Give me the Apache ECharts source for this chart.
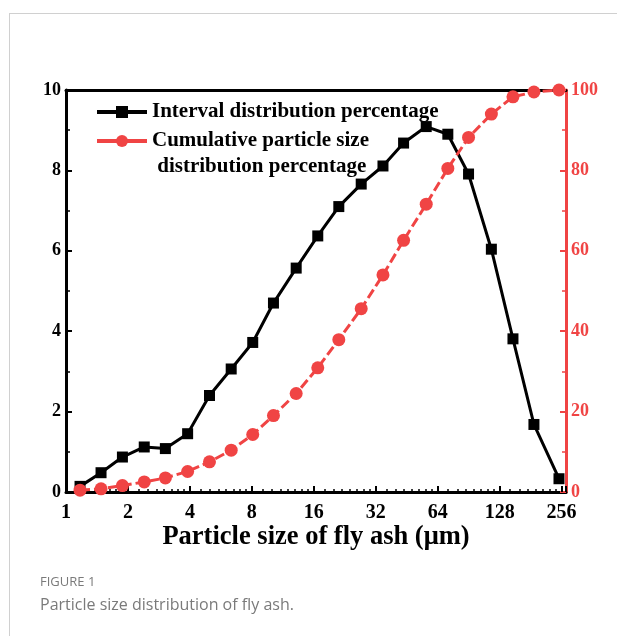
<!DOCTYPE html>
<html><head><meta charset="utf-8">
<script src="https://cdn.jsdelivr.net/npm/echarts@6/dist/echarts.min.js"></script>
<style>
html,body{margin:0;padding:0;background:#fff;}
#wrap{position:relative;width:617px;height:636px;overflow:hidden;}
#card{position:absolute;left:9px;top:13px;width:700px;height:700px;border-top:1px solid #d0d0d0;border-left:1px solid #d0d0d0;}
#chart{position:absolute;left:0;top:0;width:617px;height:636px;}
#fig{position:absolute;left:40px;top:572px;font-family:'Open Sans',sans-serif;font-size:13px;color:#7a7a7a;}
#cap{position:absolute;left:40px;top:593px;font-family:'Open Sans',sans-serif;font-size:16px;color:#7a7a7a;}
</style></head>
<body><div id="wrap"><div id="card"></div><div id="chart"></div>
<div id="fig">FIGURE 1</div><div id="cap">Particle size distribution of fly ash.</div></div>
<script>
const sizes = [1.17,1.48,1.88,2.40,3.04,3.90,4.98,6.35,8.08,10.19,13.14,16.73,21.17,27.2,34.7,43.7,56.3,71.7,90.4,116.7,148.6,187.9,248.7];
const intervalPct = [0.14,0.48,0.87,1.12,1.08,1.45,2.40,3.06,3.72,4.70,5.57,6.37,7.10,7.66,8.11,8.68,9.09,8.90,7.91,6.04,3.81,1.68,0.33];
const cumulativePct = [0.45,0.8,1.6,2.5,3.5,5.1,7.5,10.4,14.3,19.0,24.5,30.9,37.9,45.6,54.0,62.6,71.6,80.5,88.2,94.0,98.3,99.5,100];
const xTicks = [1,2,4,8,16,32,64,128,256];
const seriesNames = ['Interval distribution percentage','Cumulative particle size\n distribution percentage'];

const RED = '#f04444';
const SERIF = '"Liberation Serif","Times New Roman",serif';
const legendText = {fontFamily:SERIF,fontWeight:'bold',fontSize:21,color:'#000',lineHeight:26};
const chart = echarts.init(document.getElementById('chart'));
chart.setOption({
  animation:false,
  grid:{left:66,right:51,top:90,bottom:144},
  legend:[
    {left:95,top:99,padding:0,itemWidth:50,itemHeight:15,
     data:[{name:seriesNames[0],lineStyle:{width:4}}],
     textStyle:legendText},
    {left:95,top:102,padding:0,itemWidth:50,itemHeight:15,
     data:[{name:seriesNames[1],lineStyle:{type:'solid',width:4}}],
     formatter:function(n){return ' \n'+n;},
     textStyle:legendText}
  ],
  xAxis:[{
    type:'log',logBase:2,min:1,max:269,
    axisLine:{onZero:false,lineStyle:{color:'#000',width:3}},
    axisTick:{inside:true,length:6,lineStyle:{width:2,color:'#000'}},
    minorTick:{show:true,splitNumber:8,length:3,lineStyle:{width:1.5,color:'#000'}},
    splitLine:{show:false},minorSplitLine:{show:false},
    axisLabel:{margin:11,fontFamily:SERIF,fontWeight:'bold',fontSize:20,color:'#000',
      formatter:function(v){const r=Math.round(v);return (Math.abs(v-r)<1e-6&&xTicks.indexOf(r)>=0)?String(r):'';}},
    name:'Particle size of fly ash (μm)',nameLocation:'middle',nameGap:32,nameMoveOverlap:false,
    nameTextStyle:{fontFamily:SERIF,fontWeight:'bold',fontSize:26.5,color:'#000'}
  },{
    type:'log',logBase:2,min:1,max:269,position:'top',
    axisLine:{onZero:false,lineStyle:{color:'#000',width:3}},
    axisTick:{show:false},axisLabel:{show:false},splitLine:{show:false}
  }],
  yAxis:[{
    type:'value',min:0,max:10,interval:2,
    axisLine:{show:true,onZero:false,lineStyle:{color:'#000',width:3}},
    axisTick:{inside:true,length:6,lineStyle:{width:2,color:'#000'}},
    minorTick:{show:true,splitNumber:2,length:4,lineStyle:{width:1.5,color:'#000'}},
    splitLine:{show:false},
    axisLabel:{margin:5,fontFamily:SERIF,fontWeight:'bold',fontSize:18,color:'#000'}
  },{
    type:'value',min:0,max:100,interval:20,position:'right',
    axisLine:{show:true,onZero:false,lineStyle:{color:RED,width:3}},
    axisTick:{inside:true,length:6,lineStyle:{width:2,color:RED}},
    minorTick:{show:true,splitNumber:2,length:4,lineStyle:{width:1.5,color:RED}},
    splitLine:{show:false},
    axisLabel:{margin:5,fontFamily:SERIF,fontWeight:'bold',fontSize:18,color:RED}
  }],
  series:[{
    name:seriesNames[0],type:'line',xAxisIndex:0,yAxisIndex:0,
    data:sizes.map((s,i)=>[s,intervalPct[i]]),
    symbol:'rect',symbolSize:11,
    itemStyle:{color:'#000'},lineStyle:{color:'#000',width:3}
  },{
    name:seriesNames[1],type:'line',xAxisIndex:0,yAxisIndex:1,
    data:sizes.map((s,i)=>[s,cumulativePct[i]]),
    symbol:'circle',symbolSize:13,
    itemStyle:{color:RED},lineStyle:{color:RED,width:3,type:[10,4]}
  }]
});
</script></body></html>
